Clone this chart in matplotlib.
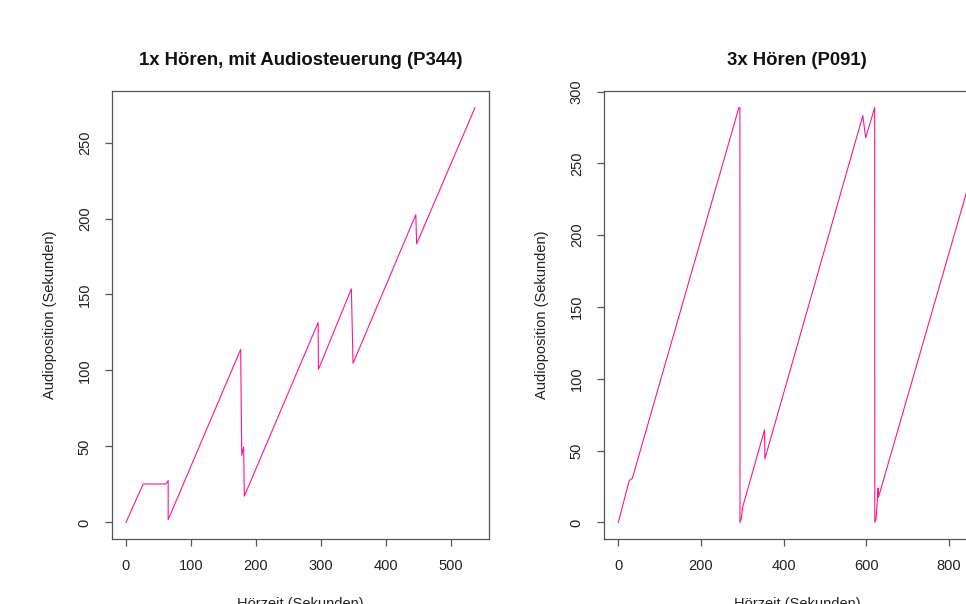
import matplotlib.pyplot as plt
import numpy as np

plt.rcParams['font.family'] = ['Liberation Sans', 'DejaVu Sans']

# Audiosteuerung: Hoerzeit (s) vs. Audioposition (s)
p344_zeit = [0, 26.5, 61.3, 64.9, 64.9, 176.4, 178, 181, 182, 295.5, 296,
             346.6, 349.2, 445.7, 447, 536.8]
p344_pos = [0, 25.3, 25.3, 27.5, 1.8, 113.9, 44.2, 49.7, 17.3, 131.5, 100.7,
            153.7, 104.7, 202.5, 183.4, 273]

p091_zeit = [0, 26.6, 33.9, 291.9, 294.3, 294.5, 297.5, 300.8, 354, 354.8,
             591.8, 598.7, 620.5, 620.8, 624, 628.8, 629.7, 865]
p091_pos = [0, 29.2, 30.6, 288.8, 288.8, 0, 2.6, 10.5, 64.5, 44.3,
            283.2, 267.8, 288.8, 0, 2.6, 24, 17.5, 252]

titles = ['1x Hören, mit Audiosteuerung (P344)', '3x Hören (P091)']
xticks = [np.arange(0, 501, 100), np.arange(0, 801, 200)]
yticks = [np.arange(0, 251, 50), np.arange(0, 301, 50)]

linecol = '#FF1493'
axcol = '#555555'

fig = plt.figure(figsize=(9.66, 6.04), dpi=100)
W, H = 966, 604
ax1 = fig.add_axes([112 / W, (H - 539) / H, 377 / W, 448 / H])
ax2 = fig.add_axes([604 / W, (H - 539) / H, 386 / W, 448 / H])

data = [(p344_zeit, p344_pos), (p091_zeit, p091_pos)]
for ax, (x, y), t, xt, yt in zip([ax1, ax2], data, titles, xticks, yticks):
    ax.plot(x, y, color=linecol, lw=0.8)
    ax.margins(0.04)
    ax.set_xticks(xt)
    ax.set_yticks(yt)
    ax.set_title(t, fontsize=13.3, fontweight='bold', pad=19, color='#111111')
    ax.set_xlabel('Hörzeit (Sekunden)', fontsize=10.5, labelpad=17, color='#222222')
    ax.set_ylabel('Audioposition (Sekunden)', fontsize=10.5, labelpad=15, color='#222222')
    ax.tick_params(length=5, width=0.9, color=axcol, labelsize=10.5,
                   labelcolor='#222222', pad=9.5)
    for lab in ax.get_yticklabels():
        lab.set_rotation(90)
        lab.set_va('center')
    for s in ax.spines.values():
        s.set_color(axcol)
        s.set_linewidth(0.9)

fig.savefig('out.png', dpi=100)
